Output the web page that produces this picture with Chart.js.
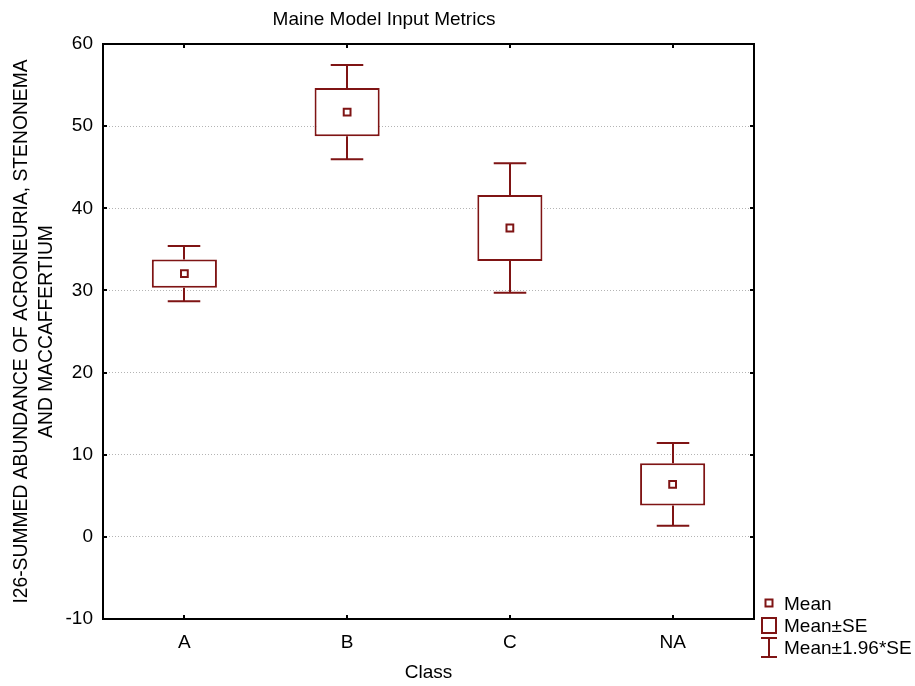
<!DOCTYPE html>
<html>
<head>
<meta charset="utf-8">
<script src="https://cdn.jsdelivr.net/npm/chart.js@4"></script>
<style>
  html, body { margin: 0; padding: 0; background: #fff; }
  canvas { display: block; }
</style>
</head>
<body>
<canvas id="chart" width="915" height="686"></canvas>
<script>
// Class means and standard errors of the I26 metric
const categories = ['A', 'B', 'C', 'NA'];
const means = [32.05, 51.7, 37.6, 6.4];
const stdErrors = [1.72, 2.93, 4.02, 2.57];
const yTickValues = [-10, 0, 10, 20, 30, 40, 50, 60];
const legendLabels = ['Mean', 'Mean\u00b1SE', 'Mean\u00b11.96*SE'];

// Box = mean ± SE, whiskers = mean ± 1.96*SE
const seBounds = means.map((m, i) => [m - stdErrors[i], m + stdErrors[i]]);
const ciBounds = means.map((m, i) => [m - 1.96 * stdErrors[i], m + 1.96 * stdErrors[i]]);

const MARK = '#7f1414';
const FONT_FAMILY = "'Liberation Sans', Arial, sans-serif";
const FONT = { family: FONT_FAMILY, size: 19, weight: 'normal' };

// Whisker stems and caps, drawn beneath the boxes
const whiskerPlugin = {
  id: 'whiskers',
  beforeDatasetsDraw(chart) {
    const meta = chart.getDatasetMeta(1);
    const y = chart.scales.y;
    const ctx = chart.ctx;
    ctx.save();
    ctx.strokeStyle = MARK;
    ctx.lineWidth = 2;
    meta.data.forEach((bar, i) => {
      const cx = Math.round(bar.x);
      const half = bar.width * 0.25;
      const yHi = y.getPixelForValue(ciBounds[i][1]);
      const yLo = y.getPixelForValue(ciBounds[i][0]);
      const yBoxHi = y.getPixelForValue(seBounds[i][1]);
      const yBoxLo = y.getPixelForValue(seBounds[i][0]);
      ctx.beginPath();
      ctx.moveTo(cx, yHi); ctx.lineTo(cx, yBoxHi);
      ctx.moveTo(cx, yLo); ctx.lineTo(cx, yBoxLo);
      ctx.moveTo(cx - half, yHi); ctx.lineTo(cx + half, yHi);
      ctx.moveTo(cx - half, yLo); ctx.lineTo(cx + half, yLo);
      ctx.stroke();
    });
    ctx.restore();
  }
};

// Plot frame with short inward tick marks on all four sides
const framePlugin = {
  id: 'frame',
  afterDatasetsDraw(chart) {
    const { ctx, chartArea: a, scales } = chart;
    ctx.save();
    ctx.strokeStyle = '#000';
    ctx.lineWidth = 2;
    ctx.strokeRect(a.left, a.top, a.right - a.left, a.bottom - a.top);
    ctx.beginPath();
    scales.y.ticks.forEach(t => {
      const py = Math.round(scales.y.getPixelForValue(t.value));
      ctx.moveTo(a.left, py); ctx.lineTo(a.left + 4, py);
      ctx.moveTo(a.right, py); ctx.lineTo(a.right - 4, py);
    });
    categories.forEach((c, i) => {
      const px = Math.round(scales.x.getPixelForValue(i));
      ctx.moveTo(px, a.top); ctx.lineTo(px, a.top + 4);
      ctx.moveTo(px, a.bottom); ctx.lineTo(px, a.bottom - 4);
    });
    ctx.stroke();
    ctx.restore();
  }
};

// Legend placed to the right of the plot, aligned with its bottom edge
const legendPlugin = {
  id: 'sideLegend',
  afterDraw(chart) {
    const { ctx, chartArea: a } = chart;
    const ix = a.right + 15;
    const tx = a.right + 30;
    const rows = [a.bottom - 15, a.bottom + 7, a.bottom + 29];
    ctx.save();
    ctx.strokeStyle = MARK;
    ctx.lineWidth = 2;
    // Mean marker
    ctx.strokeRect(ix - 3.5, rows[0] - 4.5, 7, 7);
    // SE box
    ctx.strokeRect(ix - 7, rows[1] - 8, 14, 15);
    // 1.96*SE whisker
    ctx.beginPath();
    ctx.moveTo(ix - 8, rows[2] - 10); ctx.lineTo(ix + 8, rows[2] - 10);
    ctx.moveTo(ix, rows[2] - 10); ctx.lineTo(ix, rows[2] + 9);
    ctx.moveTo(ix - 8, rows[2] + 9); ctx.lineTo(ix + 8, rows[2] + 9);
    ctx.stroke();
    ctx.fillStyle = '#000';
    ctx.font = `19px ${FONT_FAMILY}`;
    ctx.textBaseline = 'middle';
    ctx.textAlign = 'left';
    legendLabels.forEach((t, i) => ctx.fillText(t, tx, rows[i] + 1));
    ctx.restore();
  }
};

new Chart(document.getElementById('chart'), {
  data: {
    labels: categories,
    datasets: [
      {
        type: 'line',
        label: legendLabels[0],
        data: means,
        showLine: false,
        pointStyle: 'rect',
        pointRadius: 4.8,
        pointHoverRadius: 4.8,
        pointBorderWidth: 2,
        pointBackgroundColor: '#fff',
        pointBorderColor: MARK,
        order: 0
      },
      {
        type: 'bar',
        label: legendLabels[1],
        data: seBounds,
        backgroundColor: '#fff',
        borderColor: MARK,
        borderWidth: 2,
        borderSkipped: false,
        barPercentage: 0.4,
        categoryPercentage: 1,
        order: 1
      }
    ]
  },
  options: {
    responsive: false,
    animation: false,
    layout: { padding: { left: 14, right: 161, top: 0, bottom: 0 } },
    plugins: {
      legend: { display: false },
      tooltip: { enabled: false },
      title: {
        display: true,
        text: 'Maine Model Input Metrics',
        color: '#000',
        font: FONT,
        padding: { top: 8.6, bottom: 12.6 }
      }
    },
    scales: {
      x: {
        type: 'category',
        offset: true,
        grid: { display: false, drawTicks: false },
        border: { display: false },
        ticks: { color: '#000', font: FONT, padding: 12 },
        title: {
          display: true,
          text: 'Class',
          color: '#000',
          font: FONT,
          padding: { top: 0, bottom: 2 }
        },
        afterFit(scale) { scale.height = 67; }
      },
      y: {
        min: -10,
        max: 60,
        afterBuildTicks(scale) { scale.ticks = yTickValues.map(v => ({ value: v })); },
        grid: {
          drawTicks: false,
          lineWidth: 1,
          color: c => (c.tick && (c.tick.value === 60 || c.tick.value === -10)) ? 'rgba(0,0,0,0)' : '#b4b4b4'
        },
        border: { display: false, dash: [1, 2] },
        ticks: { color: '#000', font: FONT, padding: 10 },
        title: {
          display: true,
          text: ['I26-SUMMED ABUNDANCE OF ACRONEURIA, STENONEMA', 'AND MACCAFFERTIUM'],
          color: '#000',
          font: { family: FONT_FAMILY, size: 19.3, weight: 'normal', lineHeight: 1.3 },
          padding: { top: -4.8, bottom: 0 }
        },
        afterFit(scale) { scale.width = 89; }
      }
    }
  },
  plugins: [whiskerPlugin, framePlugin, legendPlugin]
});
</script>
</body>
</html>
